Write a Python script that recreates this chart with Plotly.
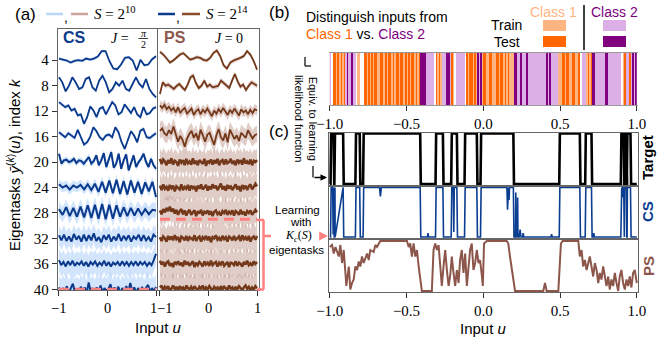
import numpy as np
import plotly.graph_objects as go

# ------------------------------------------------------------------ data
k_levels = [4, 8, 12, 16, 20, 24, 28, 32, 36, 40]
k_ticklabels = ["4", "8", "12", "16", "20", "24", "28", "32", "36", "40"]
a_xticks = [-1, 0, 1]
a_xticklabels = ["\u22121", "0", "1"]
c_xticks = [-1.0, -0.5, 0.0, 0.5, 1.0]
c_xticklabels = ["\u22121.0", "\u22120.5", "0.0", "0.5", "1.0"]

# CS eigentasks (S=2^14), offsets in units of k (positive = upwards)
cs_k4 = [0.26, 0.16, -0.05, -0.37, -0.10, 0.00, -0.10, 0.26, 0.10, 0.26, 0.58, 1.41, 1.41, -0.16, -1.31, -1.41,
         -0.68, 0.37, 0.47, -0.05, -1.62, 0.05, -0.79, -0.68, 0.16, 0.63]
cs_k8 = [1.31, 0.52, -0.89, 0.00, 1.31, 0.52, -0.52, -0.26, 1.05, 1.31, -0.26, -0.79, 0.79, 1.57, 0.52, -1.05,
         -0.52, 0.52, 0.00, 0.79, -0.52, -0.79, 0.26, 1.31, 0.26, -0.26, 1.05, -0.52, -1.31, -1.83]
cs_k12 = [1.41, 1.05, 0.63, 0.89, 0.10, 0.37, -0.68, -0.52, -1.99, -0.94, 0.73, 0.10, -0.94, 0.37, 0.63, -0.52,
          0.37, 1.41, 0.89, -0.52, -0.16, 1.05, 0.37, -0.31, 0.63, -0.52, -0.94, 0.63, -0.52, -0.31, 0.37, 0.63]
cs_k16 = [0.68, 0.31, -0.10, 0.52, 0.16, -0.21, 1.05, -0.10, -1.26, -0.89, 0.00, 1.47, 0.84, -0.10, -0.52, 0.16,
          0.31, -0.10, 1.47, 0.68, -0.89, -1.94, -0.37, 0.84, 0.16, -0.89, 0.94, 1.20, -0.10, -0.21, 0.16, 0.52]
cs_k20 = [1.31, -0.26, 0.26, 0.37, 0.00, 0.16, 0.52, -0.16, 0.26, 0.16, -0.26, 0.37, 0.79, -0.26, 0.16, 1.05,
          -0.52, 0.26, 1.41, -0.79, 0.52, 1.57, -0.89, -0.26, 1.31, -1.05, 0.26, 1.20, -1.31, 0.00, 1.05, -0.79,
          0.00, 0.52, 1.31, 0.00, -0.79, 0.52, -0.52, -1.05]
cs_k24 = [0.5, 0.0, 0.3, -0.3, 0.3, 0.0, 0.4, -0.3, 0.5, -0.4, 0.6, -0.7, 0.9, -0.8, 1.1, -0.9, 1.2, -1.0, 1.0,
          -1.1, 1.1, -0.8, 0.9, -1.0, 0.8, -0.6, 0.9, -1.5]
cs_k28 = [0.6, -0.3, 0.9, -0.5, 0.8, -0.6, 1.0, -0.7, 1.2, -0.8, 1.3, -0.9, 1.4, -1.0, 1.3, -0.9, 1.2, -0.6,
          0.9, -0.5, 0.8, -0.4, 0.7, -0.3, 0.6, -0.2, 0.5, 0.4]
cs_k32 = [0.5, -0.3, 0.6, -0.4, 0.3, -0.5, 0.7, -0.2, 0.4, -0.5, 0.6, -0.4, 0.5, -0.3, 0.8, -0.4, 0.2, -0.6,
          0.5, -0.2, 0.6, -0.5, 0.3, -0.3, 0.7, -0.4, 0.4, -0.2, 0.5, -0.5, 0.3, -0.1, 0.6, -0.4, 0.5, -0.3, 0.2,
          -0.5, 0.6, 0.2]
cs_k36 = [0.6, -0.2, 0.3, -0.4, 0.4, -0.2, 0.5, -0.3, 0.2, -0.1, 0.4, -0.3, 0.3, -0.4, 0.3, -0.1, 0.4, -0.3,
          0.2, -0.2, 0.5, -0.3, 0.3, -0.4, 0.2, -0.1, 0.3, -0.3, 0.4, -0.2, 0.3, -0.3, 0.3, -0.2, 0.4, -0.3, 0.3,
          -0.1, 0.3, -0.3, 0.2, -0.2, 0.6, 1.6]
cs_k40 = [0.3, -0.5, 0.2, -0.3, 0.5, -0.6, 0.2, 0.9, -0.4, 0.1, -0.5, 0.4, -0.2, 0.3, -0.6, 1.1, -0.3, 0.2,
          -0.5, 0.3, -0.2, 0.6, -0.4, 0.2, -0.3, 0.1, 0.8, -0.5, 0.3, -0.2, 0.4, -0.6, 0.2, -0.3, 0.5, -0.4, 1.0,
          -0.2, 0.3, -0.5, 0.2, -0.3, 0.4, -0.6, 0.3, 0.7, -0.4, 0.2, -0.3, 0.4]
cs_curves = [cs_k4, cs_k8, cs_k12, cs_k16, cs_k20, cs_k24, cs_k28, cs_k32, cs_k36, cs_k40]
# spread of the S=2^10 (noisier) eigentasks around the S=2^14 ones
cs_spread = [0.25, 0.25, 0.3, 0.35, 0.5, 0.8, 1.2, 1.5, 1.8, 2.0]

# PS eigentasks (S=2^14)
ps_k4 = [1.31, 0.89, 0.26, -0.37, -0.05, 0.47, 0.89, 1.10, 0.63, 0.10, 0.26, 0.47, 0.37, 0.05, -0.05, 0.37,
         1.15, 1.52, 0.63, -0.79, -1.31, -0.37, -0.05, 0.10, 0.37, 0.63, 1.41, 0.89, -0.16, -1.47]
ps_k8 = [-1.31, 0.52, 0.00, 0.16, -0.16, -0.52, -0.05, 0.26, -0.26, -0.68, 0.16, 1.31, 1.57, 0.37, -0.37, 0.00,
         0.79, -0.16, 0.16, -0.26, -0.16, -0.05, 0.79, 0.37, 0.00, -0.37, 0.79, 1.83, 0.68, -0.16, 0.16, -0.68,
         0.00, 0.52, 0.26, 0.00]
ps_k12 = [0.9, 0.5, 1.0, 0.3, 0.7, 0.1, 0.5, -0.2, 0.6, -0.3, 0.2, 0.5, -0.4, 0.1, 0.4, -0.6, 0.0, 0.3, -0.5,
          0.2, -0.2, 0.4, -0.3, -0.8, 0.1, -0.4, 0.3, -0.2, 0.5, 0.0, -0.6, 0.2, -0.3, 0.4, -0.1, -0.7, 0.3,
          -0.2, 0.1, -0.5, 0.2, -0.3, 0.3, 0.1]
ps_k16 = [0.9, 1.3, 0.5, 0.2, 1.0, 0.4, 1.6, 0.3, -0.8, 0.1, -0.5, -1.6, -0.3, 0.4, 0.9, -0.2, 0.5, -0.6, 1.1,
          0.2, -0.8, 0.3, 0.6, -0.4, -1.3, 0.2, 1.2, -0.1, -0.6, 0.5, -0.9, 1.1, 0.3, -0.4, 0.2, -0.7, 0.6, 0.1,
          -0.2, 1.0, 0.3, -0.3, 0.2, 0.4]
ps_k20 = [0.5, -0.3, 0.4, 0.1, -0.5, 0.3, -0.2, 0.6, -0.4, 0.2, 0.0, -0.6, 0.4, -0.1, 0.3, -0.5, 0.5, -0.2,
          0.1, -0.4, 0.6, -0.3, 0.2, -0.5, 0.3, 0.0, -0.3, 0.5, -0.6, 0.2, -0.1, 0.4, -0.4, 0.3, -0.2, 0.5,
          -0.5, 0.1, 0.3, -0.4, 0.4, -0.2, 0.0, 0.5, -0.3, 0.2, -0.5, 0.4, -0.1, 0.3, -0.4, 0.6, -0.2, 0.1, -0.3,
          0.4, -0.5, 0.2, 0.0, 0.3]
ps_k24 = [0.3, -0.4, 0.5, -0.2, 0.1, -0.5, 0.4, -0.1, 0.3, -0.6, 0.2, 0.0, -0.3, 0.5, -0.4, 0.1, -0.2, 0.4,
          -0.5, 0.3, -0.1, 0.2, -0.6, 0.3, -0.2, 0.5, -0.3, 0.0, 0.4, -0.5, 0.2, -0.3, 0.5, -0.1, 0.3, -0.4,
          0.1, 0.6, -0.3, 0.2, -0.5, 0.4, -0.2, 0.3, -0.4, 0.1, 0.5, -0.3, 0.2, -0.6, 0.4, -0.1, 0.3, -0.4, 0.2,
          0.5, -0.3, 0.1, 0.6, 0.2]
ps_k28 = [0.4, -0.2, 0.6, 0.1, 0.8, 0.3, 1.0, 0.2, 0.7, -0.1, 0.5, -0.3, 0.3, 0.6, -0.2, 0.4, -0.4, 0.2, 0.5,
          -0.3, 0.1, 0.4, -0.5, 0.3, -0.1, 0.5, -0.4, 0.2, 0.0, 0.4, -0.3, 0.3, -0.5, 0.2, 0.4, -0.2, 0.1, -0.4,
          0.3, 0.0, 0.5, -0.3, 0.2, -0.1, 0.4, -0.4, 0.3, 0.1, -0.3, 0.5, -0.2, 0.2, -0.4, 0.3, 0.0, 0.4, -0.3,
          0.2, 0.5, 0.1]
ps_k32 = [0.2, -0.4, 0.3, 0.0, -0.5, 0.4, -0.2, 0.3, -0.3, 0.5, -0.1, 0.2, -0.6, 0.3, 0.1, -0.3, 0.4, -0.4,
          0.2, 0.0, -0.2, 0.5, -0.4, 0.1, 0.3, -0.5, 0.2, -0.1, 0.4, -0.3, 0.3, -0.6, 0.2, 0.0, 0.5, -0.2, 0.1,
          -0.4, 0.4, -0.1, 0.2, -0.5, 0.3, 0.1, -0.3, 0.4, -0.2, 0.0, 0.3, -0.4, 0.5, -0.1, 0.2, -0.3, 0.4, -0.5,
          0.1, 0.3, -0.2, 0.4]
ps_k36 = [0.5, -0.1, 0.3, -0.4, 0.2, 0.4, -0.3, 0.1, -0.5, 0.3, 0.0, 0.4, -0.2, 0.2, -0.4, 0.5, -0.1, 0.3,
          -0.3, 0.1, 0.4, -0.5, 0.2, -0.2, 0.3, 0.0, -0.4, 0.4, -0.1, 0.2, -0.3, 0.5, -0.2, 0.1, 0.3, -0.4, 0.2,
          -0.1, 0.4, -0.3, 0.0, 0.3, -0.5, 0.2, 0.1, -0.2, 0.4, -0.3, 0.2, 0.0, -0.4, 0.3, -0.1, 0.5, -0.2, 0.1,
          -0.3, 0.4, 0.0, 0.3]
ps_k40 = [0.3, 0.6, -0.2, 0.4, 0.1, 0.5, -0.3, 0.2, 0.6, 0.0, 0.4, -0.2, 0.5, 0.1, 0.3, -0.3, 0.6, 0.2, 0.0,
          0.4, -0.1, 0.5, 0.2, -0.2, 0.4, 0.1, 0.6, -0.1, 0.3, 0.0, 0.5, 0.2, -0.2, 0.4, 0.1, 0.3, -0.3, 0.5, 0.0,
          0.4, 0.2, -0.1, 0.6, 0.1, 0.3, -0.2, 0.4, 0.0, 0.5, 0.2, -0.1, 0.3, 0.6, 0.1, 0.4, -0.2, 0.3, 0.0, 0.5,
          0.2]
ps_curves = [ps_k4, ps_k8, ps_k12, ps_k16, ps_k20, ps_k24, ps_k28, ps_k32, ps_k36, ps_k40]
ps_spread = [0.3, 0.4, 0.8, 1.3, 1.8, 1.9, 2.0, 2.0, 2.0, 2.0]

cs_cut_k = 40      # number of CS eigentasks used (pink dashed)
ps_cut_k = 29      # number of PS eigentasks used (pink dashed)

# (b) class bar-code, one char per 0.01 of u from -1 to 1
# W = gap, l = class1 train, o = class1 test, p = class2 train, d = class2 test
barcode = ("pWoolololo" "pdppdppWll" "WWoolololo" "olloololoo" "lolooloolo"
           "loloololod" "dddpppppWo" "lolpppddpo" "lWppppppWo" "loololdpdl"
           "oolloolloo" "loolololll" "ddppdpppdp" "pppppppppp" "pdpdpppppl"
           "looloolloo" "lloWppplol" "oddppppppd" "dppppppppp" "Wloppopdpd")

# (c) target: intervals where the input belongs to class 1
target_high = [(-0.991, -0.975), (-0.966, -0.913), (-0.829, -0.805), (-0.779, -0.411), (-0.307, -0.263),
               (-0.205, -0.172), (-0.118, -0.042), (-0.014, 0.196), (0.499, 0.629), (0.668, 0.705),
               (0.900, 0.915), (0.922, 0.933), (0.939, 0.959)]
# CS prediction deviations from the target: (u, value, half width)
cs_glitch_u = [-0.978, -0.968, -0.670, -0.360, -0.192, 0.158, 0.168, 0.212, 0.218, 0.224, 0.240, 0.260, 0.445, 0.720, 0.905]
cs_glitch_v = [0.05, 0.20, 0.82, 0.08, 0.10, 0.55, 0.75, 0.90, 0.60, 0.80, 0.15, 0.08, 0.06, 0.08, 0.80]
cs_glitch_w = [0.003, 0.003, 0.006, 0.004, 0.003, 0.004, 0.003, 0.002, 0.002, 0.002, 0.006, 0.004, 0.004, 0.004, 0.003]
# PS prediction
ps_c_u = [-1.0, -0.985, -0.974, -0.963, -0.941, -0.931, -0.920, -0.909, -0.898, -0.892, -0.876, -0.866, -0.855,
          -0.844, -0.833, -0.822, -0.811, -0.801, -0.790, -0.779, -0.757, -0.746, -0.736, -0.714, -0.703, -0.692,
          -0.671, -0.649, -0.497, -0.486, -0.476, -0.465, -0.454, -0.443, -0.432, -0.421, -0.411, -0.400, -0.335,
          -0.324, -0.313, -0.302, -0.291, -0.281, -0.270, -0.259, -0.248, -0.237, -0.226, -0.216, -0.205, -0.194,
          -0.183, -0.172, -0.161, -0.151, -0.140, -0.129, -0.118, -0.107, -0.096, -0.086, -0.075, -0.064, -0.053,
          -0.042, -0.031, -0.021, -0.010, -0.003, 0.005, 0.023, 0.153, 0.163, 0.174, 0.185, 0.196, 0.207, 0.391,
          0.402, 0.413, 0.489, 0.506, 0.517, 0.619, 0.629, 0.640, 0.651, 0.662, 0.673, 0.684, 0.694, 0.705, 0.716,
          0.727, 0.738, 0.749, 0.759, 0.770, 0.781, 0.803, 0.814, 0.824, 0.835, 0.846, 0.857, 0.868, 0.879, 0.889,
          0.900, 0.911, 0.922, 0.933, 0.944, 0.954, 0.965, 0.976, 0.987, 1.0]
ps_c_v = [0.88, 0.92, 0.75, 0.88, 0.69, 0.92, 0.56, 0.82, 0.36, 0.10, 0.49, 0.03, 0.16, 0.23, 0.49, 0.42, 0.59,
          0.49, 0.69, 0.56, 0.75, 0.62, 0.82, 0.78, 0.92, 0.88, 1.0, 1.0, 1.0, 0.88, 0.95, 0.69, 0.95, 0.69, 0.82,
          0.49, 0.29, 0.0, 0.0, 0.82, 0.95, 0.82, 0.92, 0.42, 0.10, 0.49, 0.82, 0.42, 0.10, 0.29, 0.69, 0.36, 0.10,
          0.42, 0.16, 0.62, 0.82, 0.36, 0.75, 0.10, 0.42, 0.82, 0.95, 0.42, 0.56, 0.82, 0.56, 0.62, 0.33, 0.10, 0.95,
          1.0, 1.0, 0.95, 0.69, 0.42, 0.16, 0.0, 0.0, 0.16, 0.0, 0.0, 0.95, 1.0, 1.0, 0.69, 0.82, 0.49, 0.62, 0.42,
          0.56, 0.69, 0.49, 0.29, 0.56, 0.42, 0.16, 0.36, 0.23, 0.49, 0.10, 0.29, 0.03, 0.23, 0.10, 0.36, 0.16, 0.0,
          0.29, 0.42, 0.16, 0.03, 0.23, 0.10, 0.29, 0.07, 0.36, 0.42, 0.16]

# ------------------------------------------------------------------ style
W, H = 672, 343
SERIF = "Liberation Serif"
SANS = "Liberation Sans"
CS_DARK = "#0b3a8c"
CS_LIGHT = "rgba(175,208,250,0.55)"
PS_DARK = "#74391a"
PS_LIGHT = "rgba(190,150,140,0.48)"
C_PS = "#8c564b"
C_CS = "#0b3d91"
PINK = "#ff8080"
LO, O, LP, DP = "#ffb482", "#ff6600", "#dcb0e6", "#800080"
FRAME = "#666666"


def px(x):
    return x / W


def py(y):
    return 1 - y / H


fig = go.Figure()

# ---- panel (a): eigentasks
for curves, spreads, light, ax in [(cs_curves, cs_spread, CS_LIGHT, ("x", "y")),
                                   (ps_curves, ps_spread, PS_LIGHT, ("x2", "y2"))]:
    for k, vals, w in zip(k_levels, curves, spreads):
        v = np.asarray(vals, dtype=float)
        u = np.linspace(-1, 1, len(v))
        yv = k - v
        fig.add_trace(go.Scatter(x=np.concatenate([u, u[::-1]]),
                                 y=np.concatenate([yv - w, (yv + w)[::-1]]),
                                 fill="toself", fillcolor=light, mode="lines", line=dict(width=0),
                                 xaxis=ax[0], yaxis=ax[1], hoverinfo="skip", showlegend=False))
for curves, dark, ax, wide in [(cs_curves, CS_DARK, ("x", "y"), 2.0), (ps_curves, PS_DARK, ("x2", "y2"), 2.5)]:
    for k, vals in zip(k_levels, curves):
        v = np.asarray(vals, dtype=float)
        u = np.linspace(-1, 1, len(v))
        fig.add_trace(go.Scatter(x=u, y=k - v, mode="lines",
                                 line=dict(color=dark, width=1.8 if k <= 16 else wide),
                                 xaxis=ax[0], yaxis=ax[1], hoverinfo="skip", showlegend=False))

# ---- panel (b): bar code heat map
code_map = {"W": 0, "l": 1, "o": 2, "p": 3, "d": 4}
n = len(barcode)
centers = -1 + (np.arange(n) + 0.5) * 2.0 / n
fig.add_trace(go.Heatmap(z=[[code_map[c] for c in barcode]], x=centers, y=[0],
                         zmin=-0.5, zmax=4.5, showscale=False, hoverinfo="skip",
                         colorscale=[[0, "white"], [0.2, "white"], [0.2, LO], [0.4, LO], [0.4, O], [0.6, O],
                                     [0.6, LP], [0.8, LP], [0.8, DP], [1, DP]],
                         xaxis="x3", yaxis="y3"))


# ---- panel (c)
def target_at(u):
    return 1.0 if any(a <= u <= b for a, b in target_high) else 0.0


ramp = 0.004
tu, tv = [-1.0], [0.0]
for a, b in target_high:
    tu += [a - ramp, a, b, b + ramp]
    tv += [0.0, 1.0, 1.0, 0.0]
tu.append(1.0)
tv.append(0.0)
fig.add_trace(go.Scatter(x=tu, y=tv, mode="lines", line=dict(color="black", width=2.6),
                         xaxis="x4", yaxis="y4", hoverinfo="skip", showlegend=False))

pts = list(zip(tu, tv))
for gu, gv, gw in zip(cs_glitch_u, cs_glitch_v, cs_glitch_w):
    base = target_at(gu)
    pts += [(gu - gw, base), (gu, gv), (gu + gw, base)]
pts.sort(key=lambda p: p[0])
fig.add_trace(go.Scatter(x=[p[0] for p in pts], y=[p[1] for p in pts], mode="lines",
                         line=dict(color=C_CS, width=1.6),
                         xaxis="x5", yaxis="y5", hoverinfo="skip", showlegend=False))
fig.add_trace(go.Scatter(x=ps_c_u, y=ps_c_v, mode="lines", line=dict(color=C_PS, width=2.0),
                         xaxis="x6", yaxis="y6", hoverinfo="skip", showlegend=False))

# ------------------------------------------------------------------ axes
frame = dict(showline=True, mirror=True, linecolor=FRAME, linewidth=1.3, showgrid=False, zeroline=False)
tickfont = dict(family=SERIF, size=15, color="black")
a_ydom = [py(290), py(29)]
c_xdom = [px(329), px(638)]
c_xrange = [-1.005, 1.008]
noticks = dict(showticklabels=False, ticks="")

layout_axes = dict(
    xaxis=dict(domain=[px(58), px(157)], range=[-1.02, 1.02], anchor="y", tickvals=a_xticks,
               showticklabels=False, ticks="outside", ticklen=5, tickcolor="#333", **frame),
    yaxis=dict(domain=a_ydom, range=[40.1, -0.9], anchor="x", tickvals=k_levels, ticktext=k_ticklabels,
               ticks="outside", ticklen=5, tickcolor="#333", tickfont=tickfont, **frame),
    xaxis2=dict(domain=[px(158), px(258.5)], range=[-1.04, 1.03], anchor="y2", tickvals=a_xticks,
                showticklabels=False, ticks="outside", ticklen=5, tickcolor="#333", **frame),
    yaxis2=dict(domain=a_ydom, range=[40.1, -0.9], anchor="x2", **noticks, **frame),
    xaxis3=dict(domain=c_xdom, range=c_xrange, anchor="y3", tickvals=c_xticks, ticktext=c_xticklabels,
                ticks="outside", ticklen=5, tickcolor="#333", tickfont=tickfont, showline=True, mirror=True,
                linecolor="#999", linewidth=1.3, showgrid=False, zeroline=False),
    yaxis3=dict(domain=[py(105), py(53)], range=[-0.5, 0.5], anchor="x3", visible=False),
    xaxis4=dict(domain=c_xdom, range=c_xrange, anchor="y4", **noticks, **frame),
    yaxis4=dict(domain=[py(185), py(132.5)], range=[-0.02, 1.02], anchor="x4", **noticks, **frame),
    xaxis5=dict(domain=c_xdom, range=c_xrange, anchor="y5", **noticks, **frame),
    yaxis5=dict(domain=[py(238), py(186.5)], range=[-0.02, 1.02], anchor="x5", **noticks, **frame),
    xaxis6=dict(domain=c_xdom, range=c_xrange, anchor="y6", tickvals=c_xticks, ticktext=c_xticklabels,
                ticks="outside", ticklen=5, tickcolor="#333", tickfont=tickfont, **frame),
    yaxis6=dict(domain=[py(292), py(240)], range=[-0.02, 1.02], anchor="x6", **noticks, **frame),
)
for axd in layout_axes.values():
    axd["automargin"] = False


# ------------------------------------------------------------------ shapes
def pline(x0, y0, x1, y1, color="black", width=1.5, dash=None):
    return dict(type="line", xref="paper", yref="paper", x0=px(x0), y0=py(y0), x1=px(x1), y1=py(y1),
                line=dict(color=color, width=width, dash=dash))


def prect(x0, y0, x1, y1, color):
    return dict(type="rect", xref="paper", yref="paper", x0=px(x0), y0=py(y1), x1=px(x1), y1=py(y0),
                fillcolor=color, line=dict(width=0))


shapes = [
    pline(46, 14, 63, 14, "#b9d7fa", 2.5), pline(71, 14, 88, 14, "#c9a49a", 2.5),
    pline(158, 14, 175, 14, CS_DARK, 2.5), pline(182, 14, 200, 14, "#8b4a2b", 2.5),
    pline(138.5, 38.5, 148, 38.5, "black", 0.8),
    dict(type="line", xref="x", yref="y", x0=-1, x1=1, y0=cs_cut_k, y1=cs_cut_k,
         line=dict(color=PINK, width=3, dash="10px,6px")),
    dict(type="line", xref="x2", yref="y2", x0=-1, x1=1, y0=ps_cut_k, y1=ps_cut_k,
         line=dict(color=PINK, width=3, dash="10px,6px")),
    pline(257, 220, 264, 220, PINK, 2.5), pline(263.5, 220, 263.5, 289.5, PINK, 2.5),
    pline(257, 289.5, 264, 289.5, PINK, 2.5), pline(263.5, 236, 271, 236, PINK, 2.5),
    pline(584, 5, 584, 50, "black", 1.5),
    prect(543, 20, 566, 31, LO), prect(543, 36, 566, 47, O),
    prect(603, 20, 626, 31, LP), prect(603, 36, 626, 47, DP),
    pline(305, 57, 305, 66, "black", 1.2), pline(305, 66, 311, 66, "black", 1.2),
    pline(313, 166, 313, 177.5, "black", 1.2),
]


# ------------------------------------------------------------------ annotations
def ann(x, y, text, size=14, family=SANS, color="black", xanchor="center", angle=0):
    return dict(x=px(x), y=py(y), xref="paper", yref="paper", text=text, showarrow=False,
                xanchor=xanchor, yanchor="middle", textangle=angle,
                font=dict(family=family, size=size, color=color))


annotations = []
# x tick labels of panel (a), positioned on the data ticks (nudged apart where CS meets PS)
for xref, shifts in [("x", [0, 0, -2.5]), ("x2", [5, 0, 0])]:
    for tv_, tt, sh in zip(a_xticks, a_xticklabels, shifts):
        annotations.append(dict(x=tv_, y=py(307.5), xref=xref, yref="paper", text=tt, showarrow=False,
                                xanchor="center", yanchor="middle", xshift=sh, borderpad=0,
                                font=dict(family=SERIF, size=14.5, color="black")))

annotations += [
    ann(25, 14, "(a)", 17),
    ann(66, 17, ",", 14),
    ann(92, 13, "<i>S</i> = 2<sup>10</sup>", 15, SERIF, xanchor="left"),
    ann(178, 17, ",", 14),
    ann(204, 13, "<i>S</i> = 2<sup>14</sup>", 15, SERIF, xanchor="left"),
    ann(61, 38, "<b>CS</b>", 16, SANS, CS_DARK, "left"),
    ann(109, 39, "<i>J</i> =", 14, SERIF, xanchor="left"),
    ann(143.5, 33, "<i>\u03c0</i>", 10, SERIF),
    ann(143.5, 44, "2", 10, SERIF),
    ann(162, 38, "<b>PS</b>", 16, SANS, C_PS, "left"),
    ann(213, 39, "<i>J</i> = 0", 14, SERIF, xanchor="left"),
    ann(13, 165, "Eigentasks <i>\u0233</i><sup>(<i>k</i>)</sup>(<i>u</i>), index <i>k</i>", 15, SANS, angle=-90),
    ann(158, 327, "Input <i>u</i>", 15),
    ann(279, 13, "(b)", 17),
    ann(304, 17, "Distinguish inputs from", 14, xanchor="left"),
    ann(304, 34, "<span style='color:#ff6600'>Class 1</span> vs. <span style='color:#800080'>Class 2</span>",
        14, xanchor="left"),
    ann(528, 12, "Class 1", 14, SANS, LO, "left"),
    ann(589, 12, "Class 2", 14, SANS, DP, "left"),
    ann(524, 25, "Train", 14, xanchor="right"),
    ann(522, 42, "Test", 14, xanchor="right"),
    ann(306, 118, "Equiv. to learning<br>likelihood function", 11, angle=90),
    ann(279, 131, "(c)", 17),
    ann(297, 210, "Learning", 11.5),
    ann(300, 222, "with", 11.5),
    ann(298, 236, "<i>K<sub>c</sub></i>(<i>S</i>)", 12, SERIF),
    ann(296, 250, "eigentasks", 11.5),
    ann(647, 158, "<b>Target</b>", 15, angle=-90),
    ann(647, 212, "<b>CS</b>", 15, SANS, C_CS, angle=-90),
    ann(648, 266, "<b>PS</b>", 15, SANS, C_PS, angle=-90),
    ann(483, 328, "Input <i>u</i>", 15),
    dict(x=px(327), y=py(177.5), xref="paper", yref="paper", ax=-14, ay=0, text="", showarrow=True,
         arrowhead=2, arrowsize=1, arrowwidth=1.3, arrowcolor="black"),
    dict(x=px(328), y=py(236), xref="paper", yref="paper", ax=-9, ay=0, text="", showarrow=True,
         arrowhead=2, arrowsize=0.8, arrowwidth=2.2, arrowcolor=PINK),
]

fig.update_layout(width=W, height=H, margin=dict(l=0, r=0, t=0, b=0, pad=0, autoexpand=False),
                  paper_bgcolor="white", plot_bgcolor="white", showlegend=False, shapes=shapes,
                  annotations=annotations, font=dict(family=SANS, color="black"), **layout_axes)

fig.write_html("out.html", config={"displayModeBar": False},
               post_script="document.body.style.margin='0px';document.body.style.padding='0px';")
